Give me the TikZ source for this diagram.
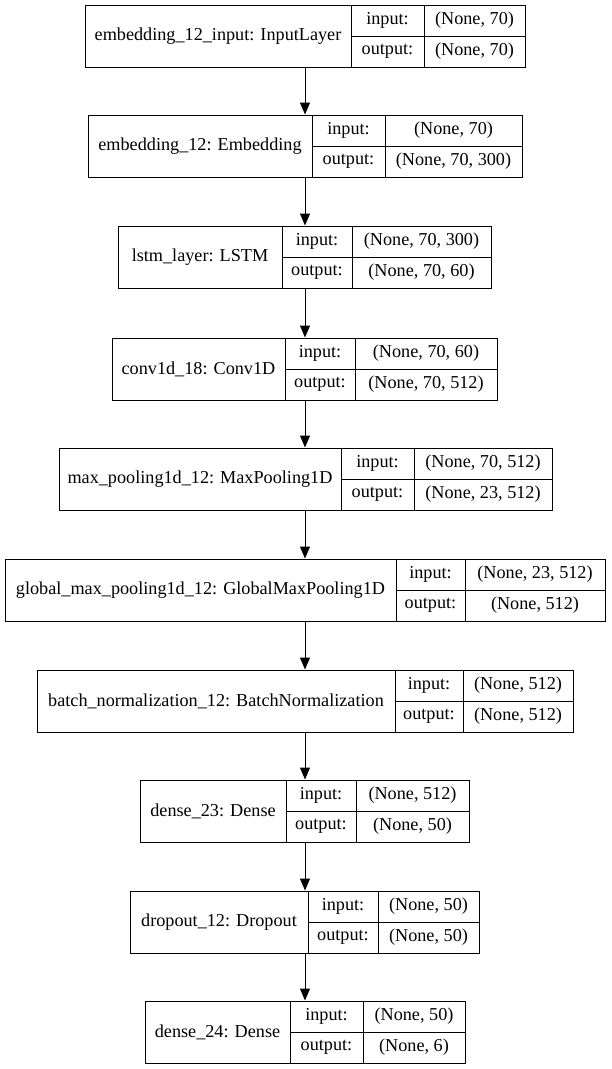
\documentclass[tikz,border=0pt]{standalone}
\usepackage{fontspec}
\setmainfont{Liberation Serif}
\usetikzlibrary{arrows.meta}
\tikzset{
  box/.style={draw=black, line width=1pt, inner sep=0pt, fill=none},
  cell/.style={line width=1pt},
  txt/.style={inner sep=0pt, font=\fontsize{18.2}{20}\selectfont},
  arr/.style={line width=1pt, -{Triangle[length=12pt,width=10pt]}},
}
% name, x1, d1, d2, x2, ytop, label, input, output
\newcommand\layerbox[9]{%
  \pgfmathsetmacro\lbcx{(#2+#5)/2}%
  \pgfmathsetmacro\lbwd{#5-#2}%
  \pgfmathsetmacro\lbcy{#6+31}%
  \node[box, minimum width=\lbwd pt, minimum height=62pt] (#1) at (\lbcx,\lbcy) {};
  \draw[cell] (#3,#6) -- (#3,{#6+62});
  \draw[cell] (#4,#6) -- (#4,{#6+62});
  \draw[cell] (#3,{#6+31}) -- (#5,{#6+31});
  \node[txt] (#1-l) at ({(#2+#3)/2},{#6+31}) {#7};
  \node[txt] (#1-il) at ({(#3+#4)/2},{#6+15.5}) {input:};
  \node[txt] (#1-iv) at ({(#4+#5)/2},{#6+15.5}) {#8};
  \node[txt] (#1-ol) at ({(#3+#4)/2},{#6+46.5}) {output:};
  \node[txt] (#1-ov) at ({(#4+#5)/2},{#6+46.5}) {#9};
}
\begin{document}
\begin{tikzpicture}[x=1pt,y=-1pt]
\useasboundingbox[fill=white] (0,0) rectangle (611,1069);
\layerbox{b1}{85}{351}{424}{525}{5}{embedding\_12\_input: InputLayer}{(None, 70)}{(None, 70)}
\layerbox{b2}{88}{312}{385}{522}{115}{embedding\_12: Embedding}{(None, 70)}{(None, 70, 300)}
\layerbox{b3}{118}{282}{352}{491}{226}{lstm\_layer: LSTM}{(None, 70, 300)}{(None, 70, 60)}
\layerbox{b4}{112}{285}{355}{497}{338}{conv1d\_18: Conv1D}{(None, 70, 60)}{(None, 70, 512)}
\layerbox{b5}{59}{341}{414}{552}{448}{max\_pooling1d\_12: MaxPooling1D}{(None, 70, 512)}{(None, 23, 512)}
\layerbox{b6}{5}{396}{465}{605}{559}{global\_max\_pooling1d\_12: GlobalMaxPooling1D}{(None, 23, 512)}{(None, 512)}
\layerbox{b7}{37}{395}{463}{573}{670}{batch\_normalization\_12: BatchNormalization}{(None, 512)}{(None, 512)}
\layerbox{b8}{140}{286}{356}{469}{780}{dense\_23: Dense}{(None, 512)}{(None, 50)}
\layerbox{b9}{130}{308}{378}{479}{891}{dropout\_12: Dropout}{(None, 50)}{(None, 50)}
\layerbox{b10}{145}{290}{363}{465}{1001}{dense\_24: Dense}{(None, 50)}{(None, 6)}
\draw[arr] (b1.south) -- (b1.south |- b2.north);
\draw[arr] (b2.south -| b1.south) -- (b1.south |- b3.north);
\draw[arr] (b3.south -| b1.south) -- (b1.south |- b4.north);
\draw[arr] (b4.south -| b1.south) -- (b1.south |- b5.north);
\draw[arr] (b5.south -| b1.south) -- (b1.south |- b6.north);
\draw[arr] (b6.south -| b1.south) -- (b1.south |- b7.north);
\draw[arr] (b7.south -| b1.south) -- (b1.south |- b8.north);
\draw[arr] (b8.south -| b1.south) -- (b1.south |- b9.north);
\draw[arr] (b9.south -| b1.south) -- (b1.south |- b10.north);
\end{tikzpicture}
\end{document}
